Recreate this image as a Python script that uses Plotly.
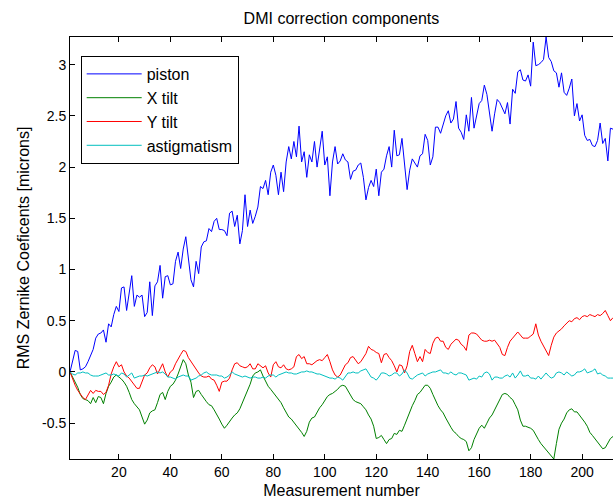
import plotly.graph_objects as go

measurement = list(range(1, 213))

piston = [
    0.00, 0.12, 0.21, 0.20, 0.02, 0.03, 0.05, 0.10, 0.17, 0.22,
    0.33, 0.37, 0.38, 0.41, 0.29, 0.47, 0.44, 0.56, 0.64, 0.59,
    0.82, 0.83, 0.60, 0.79, 0.94, 0.64, 0.75, 0.73, 0.75, 0.54,
    0.58, 0.88, 0.55, 0.84, 0.88, 1.04, 0.72, 0.93, 0.94, 0.85,
    0.86, 1.08, 1.17, 1.01, 1.20, 1.32, 1.08, 0.90, 0.83, 1.08,
    0.96, 1.22, 1.27, 1.28, 1.40, 1.37, 1.47, 1.50, 1.39, 1.39,
    1.38, 1.33, 1.55, 1.57, 1.42, 1.53, 1.25, 1.38, 1.73, 1.42,
    1.58, 1.45, 1.52, 1.61, 1.81, 1.79, 1.87, 1.73, 1.95, 2.02,
    1.92, 1.73, 1.95, 1.76, 2.05, 2.20, 2.08, 2.25, 2.10, 2.40,
    2.05, 2.15, 1.90, 2.12, 2.05, 2.25, 2.00, 2.20, 2.35, 2.02,
    2.10, 1.72, 2.05, 2.20, 2.03, 2.06, 2.13, 2.07, 2.05, 1.88,
    1.96, 1.97, 2.02, 2.04, 1.90, 1.68, 1.80, 1.87, 1.81, 1.98,
    1.72, 1.95, 1.98, 2.11, 2.20, 2.00, 2.36, 2.11, 2.12, 2.28,
    2.00, 1.78, 1.97, 2.08, 2.04, 2.00, 2.11, 2.13, 2.32, 2.26,
    2.02, 2.10, 2.39, 2.39, 2.33, 2.42, 2.50, 2.55, 2.43, 2.47,
    2.64, 2.38, 2.34, 2.27, 2.51, 2.35, 2.68, 2.38, 2.50, 2.62,
    2.65, 2.80, 2.71, 2.52, 2.35, 2.52, 2.66, 2.63, 2.58, 2.52,
    2.63, 2.42, 2.76, 2.72, 2.93, 2.95, 2.85, 2.84, 2.90, 2.79,
    3.22, 2.99, 3.00, 3.02, 3.05, 3.27, 3.07, 3.03, 2.94, 2.92,
    2.78, 2.92, 2.73, 2.70, 2.77, 2.86, 2.50, 2.62, 2.45, 2.51,
    2.31, 2.26, 2.27, 2.21, 2.20, 2.26, 2.43, 2.23, 2.28, 2.06,
    2.38, 2.37,
]

x_tilt = [
    0.00, -0.05, -0.10, -0.15, -0.22, -0.26, -0.27, -0.28, -0.31, -0.25,
    -0.30, -0.24, -0.25, -0.31, -0.21, -0.14, -0.10, -0.05, -0.03, -0.05,
    -0.07, -0.10, -0.14, -0.20, -0.27, -0.31, -0.34, -0.37, -0.44, -0.51,
    -0.47, -0.40, -0.38, -0.37, -0.30, -0.22, -0.20, -0.27, -0.19, -0.14,
    -0.12, -0.08, -0.02, 0.05, 0.12, 0.08, -0.03, -0.10, -0.25, -0.19,
    -0.18, -0.22, -0.26, -0.29, -0.32, -0.33, -0.37, -0.41, -0.46, -0.51,
    -0.55, -0.52, -0.48, -0.45, -0.42, -0.40, -0.36, -0.30, -0.23, -0.17,
    -0.12, -0.04, -0.01, 0.00, 0.02, -0.04, -0.09, -0.14, -0.17, -0.20,
    -0.24, -0.27, -0.30, -0.35, -0.40, -0.44, -0.46, -0.49, -0.52, -0.55,
    -0.59, -0.63, -0.58, -0.49, -0.45, -0.44, -0.39, -0.35, -0.32, -0.28,
    -0.24, -0.22, -0.21, -0.19, -0.17, -0.14, -0.13, -0.14, -0.18, -0.23,
    -0.27, -0.29, -0.30, -0.31, -0.34, -0.37, -0.42, -0.46, -0.53, -0.65,
    -0.64, -0.62, -0.66, -0.70, -0.66, -0.65, -0.60, -0.61, -0.57, -0.58,
    -0.52, -0.45, -0.38, -0.33, -0.28, -0.22, -0.20, -0.16, -0.13, -0.13,
    -0.16, -0.22, -0.28, -0.33, -0.37, -0.40, -0.45, -0.50, -0.54, -0.58,
    -0.60, -0.63, -0.65, -0.66, -0.68, -0.77, -0.74, -0.66, -0.60, -0.55,
    -0.52, -0.55, -0.50, -0.45, -0.42, -0.37, -0.32, -0.26, -0.22, -0.21,
    -0.22, -0.25, -0.27, -0.32, -0.37, -0.47, -0.53, -0.53, -0.54, -0.55,
    -0.57, -0.62, -0.66, -0.70, -0.73, -0.75, -0.78, -0.81, -0.85, -0.70,
    -0.56, -0.50, -0.46, -0.40, -0.37, -0.36, -0.39, -0.39, -0.42, -0.46,
    -0.49, -0.53, -0.59, -0.62, -0.65, -0.68, -0.71, -0.75, -0.74, -0.70,
    -0.65, -0.63,
]

y_tilt = [
    0.00, -0.07, -0.13, -0.18, -0.22, -0.25, -0.27, -0.22, -0.18, -0.21,
    -0.18, -0.19, -0.19, -0.22, -0.20, -0.13, -0.02, 0.05, 0.10, 0.05,
    0.07, 0.00, -0.04, -0.06, -0.09, -0.12, -0.16, -0.16, -0.10, -0.03,
    -0.01, 0.04, 0.07, 0.05, -0.02, 0.03, 0.08, 0.00, -0.05, 0.00,
    0.02, 0.08, 0.13, 0.17, 0.21, 0.20, 0.14, 0.10, 0.06, 0.03,
    -0.01, -0.04, -0.05, -0.05, -0.04, -0.07, -0.08, -0.13, -0.19, -0.10,
    -0.09, -0.09, -0.06, 0.02, 0.08, 0.09, 0.06, 0.05, 0.04, 0.05,
    0.08, 0.03, 0.03, 0.08, 0.06, 0.04, 0.06, -0.01, -0.05, 0.07,
    0.10, 0.05, 0.04, 0.07, 0.03, 0.02, 0.03, 0.05, 0.15, 0.17,
    0.13, 0.15, 0.08, 0.08, 0.07, 0.09, 0.11, 0.12, 0.11, 0.14,
    0.17, 0.10, 0.02, -0.03, -0.05, -0.03, 0.02, 0.07, 0.09, 0.14,
    0.15, 0.12, 0.08, 0.10, 0.14, 0.18, 0.25, 0.22, 0.21, 0.19,
    0.18, 0.09, 0.17, 0.18, 0.14, 0.11, 0.06, 0.00, 0.07, 0.06,
    -0.01, 0.06, 0.20, 0.26, 0.18, 0.10, 0.15, 0.10, 0.22, 0.19,
    0.18, 0.28, 0.33, 0.34, 0.30, 0.30, 0.24, 0.22, 0.27, 0.30,
    0.32, 0.31, 0.27, 0.25, 0.21, 0.36, 0.38, 0.38, 0.37, 0.34,
    0.31, 0.30, 0.30, 0.31, 0.30, 0.31, 0.28, 0.24, 0.17, 0.16,
    0.24, 0.30, 0.33, 0.36, 0.39, 0.36, 0.33, 0.33, 0.33, 0.35,
    0.37, 0.47, 0.36, 0.30, 0.25, 0.20, 0.16, 0.26, 0.34, 0.38,
    0.40, 0.42, 0.45, 0.48, 0.50, 0.49, 0.52, 0.53, 0.51, 0.54,
    0.55, 0.54, 0.56, 0.55, 0.54, 0.56, 0.55, 0.57, 0.60, 0.55,
    0.50, 0.53,
]

astigmatism = [
    0.00, -0.02, -0.03, -0.01, -0.01, 0.00, -0.01, -0.01, -0.03, -0.04,
    -0.04, -0.04, -0.03, -0.02, -0.01, -0.03, -0.03, -0.02, -0.03, -0.04,
    -0.01, -0.02, -0.05, -0.03, -0.01, -0.06, -0.05, -0.04, -0.04, -0.03,
    -0.04, -0.03, -0.02, -0.01, 0.00, -0.01, 0.00, -0.02, -0.05, -0.05,
    -0.06, -0.07, -0.05, -0.04, -0.03, -0.04, -0.04, -0.08, -0.07, -0.06,
    -0.04, -0.03, -0.01, 0.00, -0.02, -0.03, -0.03, -0.03, -0.04, -0.04,
    -0.06, -0.05, -0.03, 0.00, -0.02, -0.03, -0.04, -0.05, -0.04, -0.05,
    -0.06, -0.05, -0.05, -0.06, -0.06, -0.05, -0.06, -0.04, -0.03, -0.03,
    -0.05, -0.03, -0.02, -0.01, 0.00, -0.01, -0.01, -0.02, -0.02, -0.01,
    0.00, 0.00, 0.01, 0.00, 0.00, -0.01, -0.02, -0.02, -0.03, -0.04,
    -0.05, -0.06, -0.06, -0.07, -0.05, -0.06, -0.08, -0.04, -0.01, -0.01,
    0.00, -0.01, -0.01, 0.01, 0.02, 0.03, -0.01, -0.05, -0.06, -0.08,
    -0.05, -0.01, -0.01, -0.02, -0.04, -0.03, -0.01, -0.01, -0.04, -0.02,
    0.02, -0.01, -0.06, -0.07, -0.05, -0.03, -0.02, -0.01, -0.04, -0.02,
    -0.01, 0.00, 0.00, 0.01, 0.02, -0.01, -0.01, -0.02, 0.00, -0.02,
    -0.03, -0.01, -0.01, -0.02, -0.03, -0.08, -0.07, -0.06, -0.07, -0.04,
    -0.05, -0.01, 0.00, -0.02, -0.08, -0.05, -0.05, -0.06, -0.06, -0.04,
    -0.03, -0.05, -0.01, -0.06, -0.03, 0.01, -0.04, -0.04, -0.03, -0.06,
    -0.06, -0.07, -0.04, -0.07, -0.04, -0.01, -0.04, -0.06, -0.05, -0.01,
    0.00, -0.01, -0.03, 0.00, -0.02, -0.04, -0.03, 0.00, 0.00, 0.01,
    0.03, -0.01, 0.00, 0.01, 0.03, -0.02, -0.01, -0.03, -0.04, -0.06,
    -0.06, -0.06,
]

series_names = ["piston", "X tilt", "Y tilt", "astigmatism"]
series_colors = ["#0000FF", "#008000", "#FF0000", "#00BFBF"]

x_tick_vals = [20, 40, 60, 80, 100, 120, 140, 160, 180, 200]
y_tick_vals = [-0.5, 0, 0.5, 1, 1.5, 2, 2.5, 3]
y_tick_text = ["-0.5", "0", "0.5", "1", "1.5", "2", "2.5", "3"]

FONT = "Liberation Sans, Arial, Helvetica, sans-serif"

fig = go.Figure()
for name, vals, col in zip(series_names, [piston, x_tilt, y_tilt, astigmatism], series_colors):
    fig.add_trace(go.Scatter(x=measurement, y=vals, mode="lines", name=name,
                             line=dict(color=col, width=1)))

fig.update_layout(
    width=613, height=500,
    margin=dict(l=70, r=0, t=37, b=41),
    paper_bgcolor="white", plot_bgcolor="white",
    font=dict(family=FONT, size=14, color="black"),
    title=dict(text="DMI correction components", x=0.557, xanchor="center",
               y=0.964, yanchor="middle", yref="container",
               font=dict(family=FONT, size=16, color="black")),
    showlegend=True,
    legend=dict(x=0.0197, y=0.955, xanchor="left", yanchor="top",
                bgcolor="white", bordercolor="black", borderwidth=1,
                font=dict(family=FONT, size=16, color="black"),
                itemwidth=55, tracegroupgap=0),
    xaxis=dict(range=[1, 212], tickvals=x_tick_vals, ticks="inside", ticklen=5,
               tickcolor="black", showline=True, linecolor="black", linewidth=1,
               mirror="ticks", showgrid=False, zeroline=False,
               tickfont=dict(family=FONT, size=14),
               title=dict(text="Measurement number", standoff=6,
                          font=dict(family=FONT, size=16))),
    yaxis=dict(range=[-0.85, 3.27], tickvals=y_tick_vals, ticktext=y_tick_text,
               ticks="inside", ticklen=5, tickcolor="black",
               showline=True, linecolor="black", linewidth=1, mirror=False,
               showgrid=False, zeroline=False,
               tickfont=dict(family=FONT, size=14),
               title=dict(text="RMS Zernike Coeficents [microns]", standoff=8,
                          font=dict(family=FONT, size=16))),
)

fig.write_html("out.html",
               config={"displayModeBar": False},
               post_script="document.body.style.margin='0';document.body.style.overflow='hidden';")
